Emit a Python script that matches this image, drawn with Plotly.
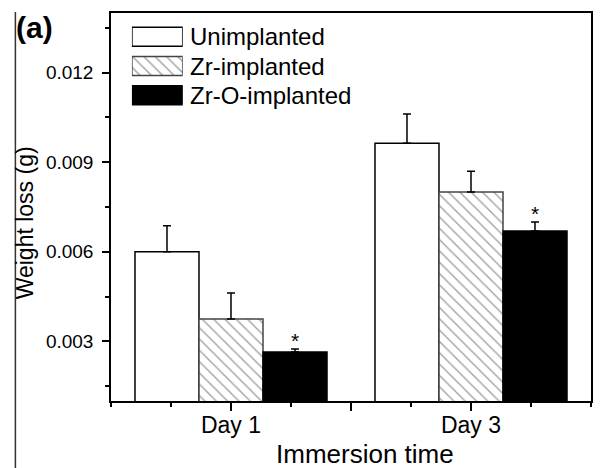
import plotly.graph_objects as go

# ---- data ----
categories = ["Day 1", "Day 3"]
cat_x = [1, 2]
series_names = ["Unimplanted", "Zr-implanted", "Zr-O-implanted"]
unimplanted = [0.0060, 0.00964]
unimplanted_err = [0.00087, 0.00098]
zr_implanted = [0.00375, 0.0080]
zr_implanted_err = [0.00087, 0.0007]
zro_implanted = [0.00264, 0.0067]
zro_implanted_err = [0.0001, 0.0003]
significant = ["*", "*"]  # marks above Zr-O-implanted bars
x_title = "Immersion time"
y_title = "Weight loss (g)"
panel_label = "(a)"

FONT = "Arial, Liberation Sans, sans-serif"
BARGAP = 0.2
W, H = 603, 468
L, R, T, B = 111, 10, 13, 67
pw, ph = W - L - R, H - T - B


def px_x(p):
    return (p - L) / pw


def px_y(p):
    return (H - B - p) / ph


values = [unimplanted, zr_implanted, zro_implanted]
errors = [unimplanted_err, zr_implanted_err, zro_implanted_err]
fills = ["white", "white", "black"]
shapes_pat = ["", "\\", ""]
outlines = ["black", "#444444", "black"]
PAT = dict(fgcolor="#4a4a4a", size=8, solidity=0.18)

fig = go.Figure()
for i, name in enumerate(series_names):
    fig.add_trace(go.Bar(
        x=cat_x, y=values[i], name=name, showlegend=False,
        marker=dict(color=fills[i], line=dict(color=outlines[i], width=1.5),
                    pattern=dict(shape=shapes_pat[i], bgcolor=fills[i], **PAT)),
        error_y=dict(type="data", symmetric=False, array=errors[i],
                     arrayminus=[0] * len(errors[i]), color="black", thickness=1.5, width=4),
    ))

# legend swatches as an inset horizontal bar chart
fig.add_trace(go.Bar(
    x=[1, 1, 1], y=[0, 1, 2], orientation="h", width=0.65, xaxis="x2", yaxis="y2",
    showlegend=False, hoverinfo="skip",
    marker=dict(color=fills, line=dict(color=outlines, width=1.5),
                pattern=dict(shape=shapes_pat, bgcolor=fills, **PAT)),
))

annotations = []
for j, name in enumerate(series_names):
    annotations.append(dict(x=px_x(188), xref="paper", y=j, yref="y2", text=name,
                            xanchor="left", yanchor="middle", showarrow=False,
                            font=dict(family=FONT, size=24, color="black")))

n = len(series_names)
k = n - 1
offset = (k - (n - 1) / 2) * (1 - BARGAP) / n
for c, xv in enumerate(cat_x):
    annotations.append(dict(x=xv + offset, y=zro_implanted[c] + zro_implanted_err[c],
                            xref="x", yref="y", text=significant[c], showarrow=False,
                            xanchor="center", yanchor="bottom", yshift=-5,
                            font=dict(family=FONT, size=21, color="black")))

annotations.append(dict(x=px_x(34), y=px_y(28), xref="paper", yref="paper",
                        text="<b>" + panel_label + "</b>", showarrow=False,
                        xanchor="center", yanchor="middle",
                        font=dict(family=FONT, size=30, color="black")))
annotations.append(dict(x=px_x(25), y=px_y(223), xref="paper", yref="paper",
                        text=y_title, textangle=-90, showarrow=False,
                        xanchor="center", yanchor="middle",
                        font=dict(family=FONT, size=23, color="black")))
annotations.append(dict(x=px_x(366), y=px_y(454), xref="paper", yref="paper",
                        text=x_title, showarrow=False,
                        xanchor="center", yanchor="middle",
                        font=dict(family=FONT, size=26, color="black")))

fig.update_layout(
    width=W, height=H,
    margin=dict(l=L, r=R, t=T, b=B),
    paper_bgcolor="white", plot_bgcolor="white",
    barmode="group", bargap=BARGAP, bargroupgap=0,
    font=dict(family=FONT, color="black"),
    annotations=annotations,
    xaxis=dict(range=[0.5, 2.5], tickvals=[1, 1.5, 2], ticktext=[categories[0], "", categories[1]],
               ticks="outside", ticklen=8, tickwidth=1.5, tickcolor="black",
               minor=dict(dtick=0.25, tick0=0.5, ticks="outside", ticklen=4, tickwidth=1.5, tickcolor="black"),
               showline=True, linecolor="black", linewidth=1.5, mirror=True,
               showgrid=False, zeroline=False, ticklabelstandoff=-5,
               tickfont=dict(size=23)),
    yaxis=dict(range=[0.001, 0.014], tickvals=[0.003, 0.006, 0.009, 0.012],
               ticktext=["0.003", "0.006", "0.009", "0.012"],
               ticks="outside", ticklen=7, tickwidth=1.5, tickcolor="black",
               minor=dict(dtick=0.0015, tick0=0, ticks="outside", ticklen=4, tickwidth=1.5, tickcolor="black"),
               showline=True, linecolor="black", linewidth=1.5, mirror=True,
               showgrid=False, zeroline=False, ticklabelstandoff=5,
               tickfont=dict(size=19)),
    xaxis2=dict(domain=[px_x(132), px_x(183)], range=[0, 1], anchor="y2",
                visible=False, fixedrange=True),
    yaxis2=dict(domain=[px_y(110), px_y(22)], range=[2.5, -0.5], anchor="x2",
                visible=False, fixedrange=True),
    shapes=[dict(type="line", xref="paper", yref="paper",
                 x0=px_x(15), x1=px_x(15), y0=px_y(H), y1=px_y(12),
                 line=dict(color="#333333", width=1.5))],
)

fig.write_html("out.html")
